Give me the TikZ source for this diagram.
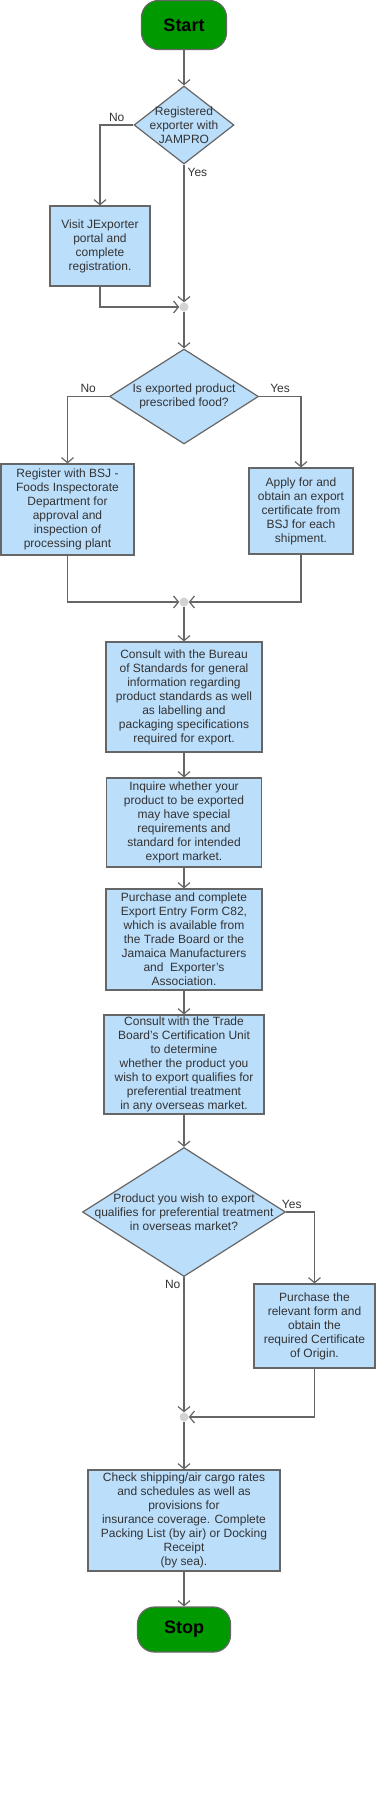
\documentclass[tikz,border=0pt]{standalone}
\usepackage{fontspec}
\setmainfont{Liberation Sans}
\usetikzlibrary{shapes.geometric,arrows.meta}
\definecolor{stepblue}{RGB}{187,222,251}
\definecolor{termgreen}{RGB}{0,153,0}
\definecolor{edgegray}{RGB}{102,102,102}
\definecolor{textgray}{RGB}{51,51,51}
\definecolor{dotgray}{RGB}{211,211,211}

\begin{document}
\begin{tikzpicture}[x=1pt, y=-1pt,
    font=\fontsize{12}{14}\selectfont,
    terminal/.style={rectangle, rounded corners=17pt, draw=edgegray, line width=1.2pt, fill=termgreen,
                    font=\fontsize{18}{20}\selectfont\bfseries, text=black},
    process/.style={rectangle, draw=edgegray, line width=1.2pt, fill=stepblue, text=textgray,
                    align=center, inner xsep=2pt, inner ysep=0pt},
    decision/.style={diamond, draw=edgegray, line width=1.2pt, fill=stepblue, inner sep=0pt},
    qtext/.style={align=center, text=textgray, inner sep=0pt},
    junction/.style={circle, fill=dotgray, inner sep=0pt, minimum size=9pt},
    answer/.style={text=textgray, inner sep=3pt},
    arrow/.style={-{Straight Barb[length=5pt, width=12pt]}, line width=1.2pt, edgegray}
]
    \useasboundingbox (0,0) rectangle (376,1799);

    % Start / Stop
    \node[terminal, minimum width=85pt, minimum height=49pt] (start) at (184,25) {Start};
    \node[terminal, minimum width=93pt, minimum height=45pt] (stop) at (184,1629.5) {Stop};

    % Decisions
    \node[decision, minimum width=100pt, minimum height=78pt] (jampro) at (184,125) {};
    \node[qtext] (jamprotext) at (jampro) {Registered\\exporter with\\JAMPRO};
    \node[decision, minimum width=149pt, minimum height=95pt] (food) at (184,396.5) {};
    \node[qtext] (foodtext) at (food) {Is exported product\\prescribed food?};
    \node[decision, minimum width=203pt, minimum height=129pt] (prefer) at (184,1212) {};
    \node[qtext] (prefertext) at (prefer) {Product you wish to export\\qualifies for preferential treatment\\in overseas market?};

    % Steps
    \node[process, minimum width=100pt, minimum height=80pt] (visit) at (100,246)
        {Visit JExporter\\portal and\\complete\\registration.};
    \node[process, minimum width=133pt, minimum height=91pt] (bsj) at (67.5,509.5)
        {Register with BSJ -\\Foods Inspectorate\\Department for\\approval and\\inspection of\\processing plant};
    \node[process, minimum width=104pt, minimum height=86pt] (cert) at (301,511)
        {Apply for and\\obtain an export\\certificate from\\BSJ for each\\shipment.};
    \node[process, minimum width=156pt, minimum height=110pt] (bureau) at (184,697)
        {Consult with the Bureau\\of Standards for general\\information regarding\\product standards as well\\as labelling and\\packaging specifications\\required for export.};
    \node[process, minimum width=155pt, minimum height=89pt] (inquire) at (184,822.5)
        {Inquire whether your\\product to be exported\\may have special\\requirements and\\standard for intended\\export market.};
    \node[process, minimum width=156pt, minimum height=101pt] (entryform) at (184,939.5)
        {Purchase and complete\\Export Entry Form C82,\\which is available from\\the Trade Board or the\\Jamaica Manufacturers\\and\ \ Exporter’s\\Association.};
    \node[process, minimum width=160pt, minimum height=99pt] (trade) at (184,1064.5)
        {Consult with the Trade\\Board’s Certification Unit\\to determine\\whether the product you\\wish to export qualifies for\\preferential treatment\\in any overseas market.};
    \node[process, minimum width=121pt, minimum height=84pt] (origin) at (314.5,1326)
        {Purchase the\\relevant form and\\obtain the\\required Certificate\\of Origin.};
    \node[process, minimum width=192pt, minimum height=101pt] (check) at (184,1520.5)
        {Check shipping/air cargo rates\\and schedules as well as\\provisions for\\insurance coverage. Complete\\Packing List (by air) or Docking\\Receipt\\(by sea).};

    % Junctions
    \node[junction] (join1) at (184,307) {};
    \node[junction] (join2) at (184,602) {};
    \node[junction] (join3) at (184,1417) {};

    % Arrows
    \draw[arrow] (start) -- (jampro);
    \draw[arrow] (jampro.west) -| node[answer, above, pos=0.25] {No} (visit.north);
    \draw[arrow] (jampro.south) -- node[answer, below right, pos=0] {Yes} (join1);
    \draw[arrow] (visit.south) |- (join1);
    \draw[arrow] (join1) -- (food);
    \draw[arrow] (food.west) -| node[answer, above, pos=0.25] {No} (bsj.north);
    \draw[arrow] (food.east) -| node[answer, above, pos=0.25] {Yes} (cert.north);
    \draw[arrow] (bsj.south) |- (join2);
    \draw[arrow] (cert.south) |- (join2);
    \draw[arrow] (join2) -- (bureau);
    \draw[arrow] (bureau) -- (inquire);
    \draw[arrow] (inquire) -- (entryform);
    \draw[arrow] (entryform) -- (trade);
    \draw[arrow] (trade) -- (prefer);
    \draw[arrow] (prefer.east) -| node[answer, above, pos=0.1] {Yes} (origin.north);
    \draw[arrow] (prefer.south) -- node[answer, below left, pos=0] {No} (join3);
    \draw[arrow] (origin.south) |- (join3);
    \draw[arrow] (join3) -- (check);
    \draw[arrow] (check) -- (stop);
\end{tikzpicture}
\end{document}
